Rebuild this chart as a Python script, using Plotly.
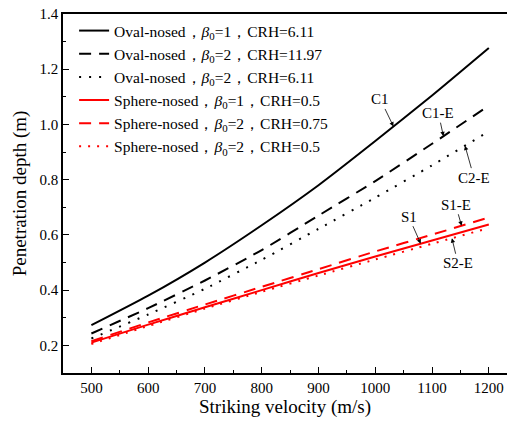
import numpy as np
import plotly.graph_objects as go

# Striking velocity (m/s)
velocity = [500, 600, 700, 800, 900, 1000, 1100, 1200]

# Penetration depth (m) for each projectile configuration
oval_b1_crh611 = [0.273, 0.380, 0.500, 0.635, 0.780, 0.940, 1.105, 1.277]
oval_b2_crh1197 = [0.243, 0.335, 0.435, 0.545, 0.670, 0.795, 0.930, 1.068]
oval_b2_crh611 = [0.225, 0.312, 0.405, 0.510, 0.622, 0.735, 0.852, 0.975]
sphere_b1_crh05 = [0.210, 0.275, 0.338, 0.400, 0.462, 0.522, 0.580, 0.638]
sphere_b2_crh075 = [0.215, 0.283, 0.348, 0.412, 0.476, 0.540, 0.601, 0.663]
sphere_b2_crh05 = [0.205, 0.270, 0.333, 0.394, 0.453, 0.511, 0.568, 0.625]

# Y-axis tick labels
depth_ticks = [0.2, 0.4, 0.6, 0.8, 1.0, 1.2, 1.4]
depth_tick_text = ["0.2", "0.4", "0.6", "0.8", "1.0", "1.2", "1.4"]

B = "<i>β</i><sub>0</sub>"
series = [
    (oval_b1_crh611, f"Oval-nosed，{B}=1，CRH=6.11", "black", "solid"),
    (oval_b2_crh1197, f"Oval-nosed，{B}=2，CRH=11.97", "black", "12px,8px"),
    (oval_b2_crh611, f"Oval-nosed，{B}=2，CRH=6.11", "black", "2px,8px"),
    (sphere_b1_crh05, f"Sphere-nosed，{B}=1，CRH=0.5", "#ff0000", "solid"),
    (sphere_b2_crh075, f"Sphere-nosed，{B}=2，CRH=0.75", "#ff0000", "12px,8px"),
    (sphere_b2_crh05, f"Sphere-nosed，{B}=2，CRH=0.5", "#ff0000", "2px,7px"),
]

FONT = "Times New Roman"

fig = go.Figure()
for ys, name, color, dash in series:
    fig.add_trace(go.Scatter(
        x=velocity, y=ys, mode="lines", name=name,
        line=dict(color=color, width=2, dash=dash, shape="spline", smoothing=0.6),
    ))

# Curve labels with arrows: (label, series, velocity at arrow tip, text offset px)
labels = [
    ("C1", oval_b1_crh611, 1032, -13, -27),
    ("C1-E", oval_b2_crh1197, 1120, -5, -23),
    ("C2-E", oval_b2_crh611, 1158, 9, 32),
    ("S1", sphere_b1_crh05, 1080, -12, -27),
    ("S1-E", sphere_b2_crh075, 1152, -6, -21),
    ("S2-E", sphere_b2_crh05, 1135, 6, 25),
]
for text, ys, vx, ax, ay in labels:
    fig.add_annotation(
        x=vx, y=float(np.interp(vx, velocity, ys)), text=text,
        showarrow=True, arrowhead=2, arrowsize=1.1, arrowwidth=0.8,
        arrowcolor="black", ax=ax, ay=ay, standoff=0,
        font=dict(family=FONT, size=15, color="black"),
    )

fig.update_layout(
    width=507, height=424,
    margin=dict(l=63, r=0, t=14, b=51),
    paper_bgcolor="white", plot_bgcolor="white",
    font=dict(family=FONT, size=15, color="black"),
    legend=dict(
        x=0.025, y=1.0, xanchor="left", yanchor="top",
        bgcolor="rgba(0,0,0,0)", font=dict(family=FONT, size=15.5, color="black"),
        tracegroupgap=0, itemwidth=30,
    ),
)
fig.update_xaxes(
    range=[450, 1232], tickmode="linear", tick0=500, dtick=100,
    ticks="inside", ticklen=6, tickwidth=1, tickcolor="black",
    minor=dict(tick0=550, dtick=100, ticks="inside", ticklen=3, tickcolor="black"),
    showline=True, linecolor="black", linewidth=1.5, mirror=True,
    showgrid=False, zeroline=False,
    title_text="Striking velocity (m/s)",
    title_font=dict(family=FONT, size=19, color="black"), title_standoff=5,
    tickfont=dict(family=FONT, size=15, color="black"),
)
fig.update_yaxes(
    range=[0.1, 1.4], tickmode="array",
    tickvals=depth_ticks, ticktext=depth_tick_text,
    ticks="inside", ticklen=6, tickwidth=1, tickcolor="black",
    minor=dict(tick0=0.1, dtick=0.2, ticks="inside", ticklen=3, tickcolor="black"),
    showline=True, linecolor="black", linewidth=1.5, mirror=False,
    showgrid=False, zeroline=False,
    title_text="Penetration depth (m)",
    title_font=dict(family=FONT, size=19, color="black"), title_standoff=8,
    tickfont=dict(family=FONT, size=15, color="black"),
)

fig.write_html("out.html")
